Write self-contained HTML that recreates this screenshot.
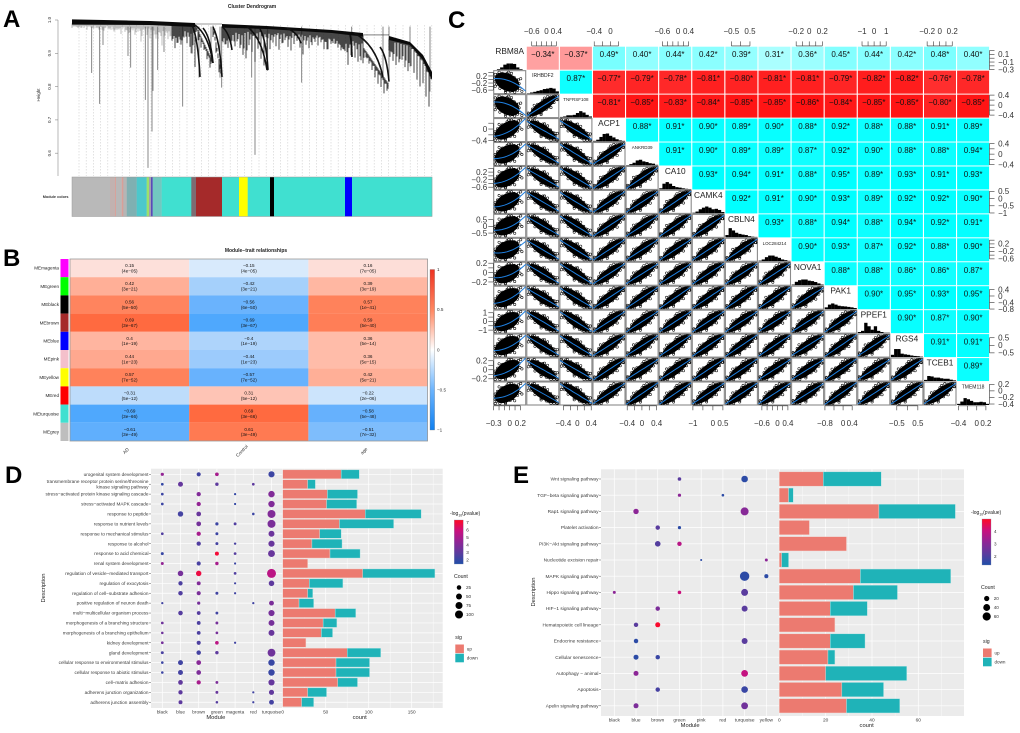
<!DOCTYPE html>
<html lang="en">
<head>
<meta charset="utf-8">
<title>WGCNA multi-panel figure</title>
<style>
html,body{margin:0;padding:0;background:#fff;}
svg{display:block;font-family:"Liberation Sans",sans-serif;}
.soft{filter:blur(.3px);}
.softer{filter:blur(.2px);}
</style>
</head>
<body>
<svg id="fig" xmlns="http://www.w3.org/2000/svg" width="1020" height="733" viewBox="0 0 1020 733">
<defs>
<linearGradient id="heatGrad" x1="0" y1="0" x2="0" y2="1">
<stop offset="0" stop-color="#ee3322"/><stop offset=".25" stop-color="#ff8660"/><stop offset=".5" stop-color="#ffffff"/><stop offset=".75" stop-color="#6cb4fd"/><stop offset="1" stop-color="#1080f0"/>
</linearGradient>
<linearGradient id="pGrad" x1="0" y1="0" x2="0" y2="1">
<stop offset="0" stop-color="#ff0a24"/><stop offset=".25" stop-color="#c9107e"/><stop offset=".5" stop-color="#8f2596"/><stop offset=".75" stop-color="#5c3b9e"/><stop offset="1" stop-color="#1f4fa8"/>
</linearGradient>
</defs>
<rect width="1020" height="733" fill="#fff"/>
<text x="3" y="27" font-size="24" font-weight="bold">A</text>
<text x="3" y="266" font-size="24" font-weight="bold">B</text>
<text x="448" y="28" font-size="24" font-weight="bold">C</text>
<text x="5" y="483" font-size="24" font-weight="bold">D</text>
<text x="513" y="483" font-size="24" font-weight="bold">E</text>

<g id="panelA" class="soft">
<text x="252" y="8" font-size="5" font-weight="bold" text-anchor="middle" fill="#222">Cluster Dendrogram</text>
<text x="0" y="0" transform="translate(40,95) rotate(-90)" font-size="4.5" text-anchor="middle" fill="#333">Height</text>
<text x="68.5" y="198" font-size="3.8" font-weight="bold" text-anchor="end" fill="#333">Module colors</text>
</g>
<g id="panelB" class="soft">
<text x="256" y="252" font-size="5" font-weight="bold" text-anchor="middle" fill="#222">Module−trait relationships</text>
</g>
<g id="panelC" class="softer"></g>
<g id="panelD" class="soft"></g>
<g id="panelE" class="soft"></g>
</svg>

<script>
/* ---------- Panel A data ---------- */
var dendroTicks = [1.0, 0.9, 0.8, 0.7, 0.6];
var bandRanks = [[0,78,123],[150,195,260,291],[317,338,351,360]];
var bandTops = [[1.002,.997,.991],[.988,.982,.970,.961],[.952,.934,.895,.844]];
var bandBottoms = [[.986,.985,.979],[.977,.973,.961,.950],[.940,.925,.88,.82]];
var longDripRanks = [19.7,27.7,31,56,58.7,73.3,76,80,81,85.7,92,110.7,119,127,139,148,149.7,179.7,183,195.7,229.7,279.7,311,317,338,358];
var longDripHeights = [.841,.748,.925,.892,.857,.76,.556,.665,.787,.85,.904,.74,.90,.827,.868,.827,.797,.827,.595,.847,.812,.889,.829,.815,.86,.785];
var twigDepths = [1,.5,1,1,1,1.5,.5,1,1,1.5,1.5,1,1,1.5,2,1.5,1,1,1.5,2.5,1,3,2,5,1,3,4,3,4,2,6,3,4,3,3,5,4,3,3,3,8,12,9,10,6,9,11,10,9,12,4,5,6,5,4,4,6,8,9,5,7,10,6,9,11,12,6,4,5,6,4,3,5,6,4,3,5,7,4,5,4,3,4,3,5,5,2,3,3,3,4,5,9,6,3,4,6,8,5,7,9,12,14,13,15,8,5,6,7,6,5,7,8,6,7,8,9,7,9,10];
var branchArcs = [[123,.985,141,.871],[120,.985,128,.829],[131,.976,141,.871],[141,.979,150,.829],[175,.98,195,.85],[188,.973,196,.85],[278,.955,280,.889],[282,.961,311,.829],[308,.919,317,.815],[150,.98,160,.91],[215,.975,229,.93]];
var flatLinks = [[123,150,.988],[291,317,.955]];
var moduleBarSegments = [[0,38],[38,43],[43,44],[44,49.7],[49.7,51.3],[51.3,54.7],[54.7,64.7],[64.7,74.7],[74.7,77],[77,79],[79,80.7],[80.7,89.7],[89.7,119.3],[119.3,124],[124,150],[150,167],[167,175.7],[175.7,198],[198,202],[202,273],[273,280],[280,360]];
var moduleBarColors = ['#b9b9b9','#c2b2b0','#d8a29b','#b8b8b8','#d89f98','#b5b5b5','#7fb0b2','#4cc8cc','#9ee06a','#a0a0b0','#5a4ab8','#72c8c0','#40e0d0','#7d6c72','#a52a2a','#40e0d0','#ffff00','#40e0d0','#000000','#40e0d0','#0000ff','#40e0d0'];

/* ---------- Panel B data ---------- */
var moduleNames = ['MEmagenta','MEgreen','MEblack','MEbrown','MEblue','MEpink','MEyellow','MEred','MEturquoise','MEgrey'];
var moduleSwatches = ['#ff00ff','#00ff00','#000000','#a52a2a','#0000ff','#f4c0cb','#ffff00','#ff0000','#40e0d0','#bebebe'];
var traitNames = ['AD','Control','age'];
var corrAD = [0.15,0.42,0.56,0.69,0.4,0.44,0.57,-0.31,-0.69,-0.61];
var corrControl = [-0.15,-0.42,-0.56,-0.69,-0.4,-0.44,-0.57,0.31,0.69,0.61];
var corrAge = [0.16,0.39,0.57,0.59,0.36,0.36,0.42,-0.22,-0.58,-0.51];
var pAD = ['4e−05','3e−21','5e−50','3e−67','1e−19','1e−23','7e−52','5e−12','3e−66','3e−49'];
var pControl = ['4e−05','3e−21','6e−50','3e−67','1e−19','1e−23','7e−52','5e−12','3e−66','3e−49'];
var pAge = ['7e−05','3e−19','1e−41','5e−40','5e−14','5e−15','5e−21','2e−06','5e−48','7e−32'];
var heatLegendTicks = [1,0.5,0,-0.5,-1];
var heatStopLevels = [0,.15,.4,.55,.69,1];
var heatPosColors = [[255,255,255],[253,224,218],[255,181,160],[255,134,96],[255,106,64],[238,51,34]];
var heatNegColors = [[255,255,255],[216,234,252],[174,212,251],[108,180,253],[79,168,253],[16,128,240]];

/* ---------- Panel C data ---------- */
var genes = ['RBM8A','IRHBDF2','TNFRSF108','ACP1','ANKRD39','CA10','CAMK4','CBLN4','LOC284214','NOVA1','PAK1','PPEF1','RGS4','TCEB1','TMEM118'];
var geneLabelSizes = [8.3,5,4.5,8.3,4.5,8.3,8.3,8.3,4.4,8.3,8.3,8.3,8.3,8.3,5];
var corrUpper = [
[-0.34,-0.37,0.49,0.40,0.44,0.42,0.39,0.31,0.36,0.45,0.44,0.42,0.48,0.40],
[0.87,-0.77,-0.79,-0.78,-0.81,-0.80,-0.81,-0.81,-0.79,-0.82,-0.82,-0.76,-0.78],
[-0.81,-0.85,-0.83,-0.84,-0.85,-0.85,-0.86,-0.84,-0.85,-0.85,-0.80,-0.85],
[0.88,0.91,0.90,0.89,0.90,0.88,0.92,0.88,0.88,0.91,0.89],
[0.91,0.90,0.89,0.89,0.87,0.92,0.90,0.88,0.88,0.94],
[0.93,0.94,0.91,0.88,0.95,0.89,0.93,0.91,0.93],
[0.92,0.91,0.90,0.93,0.89,0.92,0.92,0.90],
[0.93,0.88,0.94,0.88,0.94,0.92,0.91],
[0.90,0.93,0.87,0.92,0.88,0.90],
[0.88,0.88,0.86,0.86,0.87],
[0.90,0.95,0.93,0.95],
[0.90,0.87,0.90],
[0.91,0.91],
[0.89]];
var geneLo = [-.3,-.8,-.5,-.43,-.43,-.72,-1.03,-.82,-.73,-.27,-.81,-1.35,-.78,-.25,-.43];
var geneHi = [.3,.5,.42,.36,.44,.5,.57,.9,.5,.22,.6,1.3,.74,.26,.27];
var geneTicks = [[-.3,-.2,-.1,0,.1,.2],[-.6,-.4,-.2,0,.2,.4],[-.4,-.2,0,.2,.4],[-.4,-.2,0,.2],[-.4,-.2,0,.2,.4],[-.6,-.4,-.2,0,.2,.4],[-1,-.5,0,.5],[-.5,0,.5],[-.6,-.4,-.2,0,.2,.4],[-.2,-.1,0,.1,.2],[-.8,-.4,0,.4],[-1,-.5,0,.5,1],[-.5,0,.5],[-.2,-.1,0,.1,.2],[-.4,-.2,0,.2]];
var geneXLabels = [[-.3,0,.2],[-.6,0,.4],[-.4,0,.4],[-.4,0],[-.4,0,.4],[-.6,0,.4],[-1,0,.5],[-.5,.5],[-.6,0,.4],[-.2,0,.2],[-.8,0,.4],[-1,0,1],[-.5,.5],[-.2,0,.2],[-.4,0,.2]];
var geneYLabels = [[.1,-.1,-.3],[.2,-.2,-.6],[.4,0,-.4],[0,-.4],[.4,0,-.4],[.2,-.2,-.6],[.5,0,-.5,-1],[.5,0,-.5],[.2,-.2,-.6],[.2,0,-.2],[.4,0,-.4,-.8],[1,0,-1],[.5,0,-.5],[.2,0,-.2],[.2,0,-.2,-.4]];
var geneHist = [
[0,.03,.1,.22,.27,.27,.25,.1,.03,0],
[.02,.05,.08,.12,.15,.2,.22,.25,.22,.1],
[.03,.05,.1,.1,.12,.2,.28,.22,.12,.05],
[.03,.08,.2,.33,.35,.25,.18,.1,.05,.03],
[.02,.06,.12,.22,.25,.18,.15,.1,.08,.03],
[.05,.25,.32,.25,.15,.1,.08,.05,.03,.02],
[.03,.08,.18,.25,.3,.25,.18,.2,.15,.06],
[.1,.4,.3,.2,.15,.12,.1,.05,.03,.02],
[.03,.08,.18,.25,.25,.2,.15,.08,.05,.02],
[.03,.15,.22,.25,.25,.2,.18,.14,.08,.03],
[.08,.2,.25,.2,.15,.13,.12,.1,.08,.05],
[.05,.1,.45,.3,.15,.3,.1,.05,.02,.02],
[.1,.35,.35,.15,.12,.1,.07,.05,.04,.02],
[.05,.22,.2,.15,.15,.12,.1,.1,.06,.03],
[.05,.15,.3,.25,.18,.12,.12,.14,.12,.05]];
var scatterCloudX = [-1.6,-1.3,-1.2,-.9,-.8,-.6,-.5,-.3,-.2,0,.1,.3,.4,.6,.7,.9,1,1.2,1.3,1.5,1.6,-1.5,-1.1,-.7,-.4,0,.2,.5,.8,1.1,1.4,-1.8,1.85,-1,.95,.2,-.2,1.7,-1.7,.55];
var scatterCloudY = [.2,-.8,.9,-1.4,.3,1.3,-1,.8,-1.5,1.5,-.7,1.2,-1.4,.5,-1.2,1.1,-.3,.8,-.9,.3,-.5,-.4,-.2,-.6,1,-.4,.6,-.8,.4,-.6,.9,.7,-.9,1.6,-1.7,1.8,-1.9,1.2,-1.3,1.7];

/* ---------- Panel D data ---------- */
var dCategories = ['urogenital system development','transmembrane receptor protein serine/threonine|kinase signaling pathway','stress−activated protein kinase signaling cascade','stress−activated MAPK cascade','response to peptide','response to nutrient levels','response to mechanical stimulus','response to alcohol','response to acid chemical','renal system development','regulation of vesicle−mediated transport','regulation of exocytosis','regulation of cell−substrate adhesion','positive regulation of neuron death','multi−multicellular organism process','morphogenesis of a branching structure','morphogenesis of a branching epithelium','kidney development','gland development','cellular response to environmental stimulus','cellular response to abiotic stimulus','cell−matrix adhesion','adherens junction organization','adherens junction assembly'];
var dModules = ['black','blue','brown','green','magenta','red','turquoise'];
var dUp = [68,29,52,51,96,66,43,34,55,29,93,31,29,19,61,47,45,27,75,62,62,64,29,22];
var dDown = [21,9,35,35,65,63,25,35,35,0,84,39,6,17,24,16,13,0,39,39,39,23,22,14];
var dDots = [
[[0,4.5,10],[2,2.3,20],[3,5,15],[6,2.2,55]],
[[0,2,6],[1,3.2,32],[3,3,12],[5,3,6]],
[[0,2.2,6],[2,4,22],[4,2,3],[6,4,60]],
[[0,2.2,6],[2,4.5,22],[4,2,3],[6,4,60]],
[[1,2.4,40],[2,3.3,28],[5,2.2,5],[6,4,100]],
[[2,3.6,28],[3,2.2,10],[4,2.7,7],[6,3.8,100]],
[[0,2.7,6],[2,5,22],[3,2.2,8],[6,3.4,50]],
[[2,2.7,22],[3,2.4,8],[4,2.5,4],[6,3.3,55]],
[[0,2.1,8],[3,7,18],[4,2.8,6],[6,3.3,70]],
[[0,4.5,8],[2,2.5,20],[3,5,12],[4,2.2,3]],
[[1,3.7,42],[2,6.8,40],[4,2.7,6],[6,5.5,130]],
[[1,2.6,22],[2,4,18],[4,2.3,3],[6,3,42]],
[[1,2.7,25],[2,3.8,20],[3,2.3,8],[4,2.3,3]],
[[0,2.3,3],[2,3.7,10],[5,2.3,3],[6,3.8,30]],
[[1,2.8,26],[2,2.8,16],[3,2.3,7],[6,3.7,55]],
[[0,3.5,6],[2,2.6,16],[3,3.7,7],[6,3.7,50]],
[[0,3.5,5],[2,2.6,16],[3,3.7,6],[6,3.3,50]],
[[0,3.7,6],[2,2.6,20],[3,5.5,14],[4,2.3,3]],
[[0,2.5,8],[2,2.4,25],[3,3,12],[6,3.5,95]],
[[0,2.2,5],[1,2.3,32],[2,4.2,28],[6,2.1,60]],
[[0,2.2,5],[1,2.4,32],[2,3.9,28],[6,2.1,60]],
[[1,3.1,28],[2,5,22],[3,3.9,7],[6,3.2,55]],
[[1,3,22],[3,3.3,7],[5,2.3,3],[6,3.1,35]],
[[1,3,18],[3,2.8,5],[5,2.3,3],[6,2.4,30]]];
var dCountTicks = [0,50,100,150];
var dCountMinor = [25,75,125,175];
var dPTicks = [7,6,5,4,3,2];
var dSizeLegend = [25,50,75,100];

/* ---------- Panel E data ---------- */
var eCategories = ['Wnt signaling pathway','TGF−beta signaling pathway','Rap1 signaling pathway','Platelet activation','PI3K−Akt signaling pathway','Nucleotide excision repair','MAPK signaling pathway','Hippo signaling pathway','HIF−1 signaling pathway','Hematopoietic cell lineage','Endocrine resistance','Cellular senescence','Autophagy − animal','Apoptosis','Apelin signaling pathway'];
var eModules = ['black','blue','brown','green','pink','red','turquoise','yellow'];
var eUp = [19,4,43,13,29,1,35,32,22,24,22,21,20,27,29];
var eDown = [25,2,33,0,0,3,39,19,16,0,15,3,35,18,23];
var eDots = [
[[3,2.2,7],[6,1.5,36]],
[[3,3.1,5],[5,1.5,2.4]],
[[1,3.1,22],[6,3,57]],
[[2,2.2,13],[3,1.5,5]],
[[2,2.1,24],[3,3.8,13]],
[[4,1.5,1],[7,3.1,4]],
[[6,1.5,83],[7,1.5,10]],
[[0,3.1,4],[3,4.1,7],[6,2.2,41]],
[[2,2.8,13],[6,2.2,28]],
[[1,2.2,13],[2,4.9,18]],
[[1,1.5,13],[6,2.2,28]],
[[1,1.5,18],[2,1.7,13]],
[[1,3.1,18],[6,4,39]],
[[2,1.9,13],[6,1.7,36]],
[[1,2.8,18],[6,2.6,39]]];
var eCountTicks = [0,20,40,60];
var eCountMinor = [10,30,50,70];
var ePTicks = [4,3,2];
var eSizeLegend = [20,40,60];

/* ---------- helpers ---------- */
var NS = 'http://www.w3.org/2000/svg';
function mk(tag, attrs, parent){
  var e = document.createElementNS(NS, tag);
  for (var k in attrs) e.setAttribute(k, attrs[k]);
  parent.appendChild(e);
  return e;
}
function txt(str, attrs, parent){
  var e = mk('text', attrs, parent);
  e.textContent = str;
  return e;
}
function minus(v){ return String(v).replace('-', '−'); }
function lerp(a, b, t){ return a + (b - a) * t; }

/* ---------- Panel A ---------- */
(function(){
  var g = document.getElementById('panelA');
  function ax(r){ return 72 + r; }
  function ay(h){ return 20 + (1 - h) * 333; }
  for (var gx = 79; gx < 432; gx += 7.2) {
    var guide = mk('line', {x1:gx, x2:gx, y1:ay(.985), y2:176, stroke:'#cfcfcf', 'stroke-width':.6, 'stroke-dasharray':'1.5 1.5'}, g);
    
    
  }
  var yAxis = mk('line', {x1:58, x2:58, y1:ay(1), y2:176, stroke:'#888', 'stroke-width':.6}, g);
  
  
  dendroTicks.forEach(function(v){
    var tk = mk('line', {x1:55, x2:58, y1:ay(v), y2:ay(v), stroke:'#888', 'stroke-width':.6}, g);
    
    
    var lb = txt(v.toFixed(1), {transform:'translate(51,'+ay(v)+') rotate(-90)', 'font-size':4.5, 'text-anchor':'middle', fill:'#333'}, g);
    
    
  });
  longDripRanks.forEach(function(r, i){
    var d = mk('line', {x1:ax(r), x2:ax(r), y1:ay(.98), y2:ay(longDripHeights[i]), stroke:'#6a6a6a', 'stroke-width':.8}, g);
    
    
  });
  function bandY(seg, r, arr){
    var rs = bandRanks[seg];
    for (var i = 0; i < rs.length - 1; i++) {
      if (r >= rs[i] && r <= rs[i+1]) return lerp(arr[seg][i], arr[seg][i+1], (r - rs[i]) / (rs[i+1] - rs[i]));
    }
    return null;
  }
  function gapBase(r){
    if (r < 141) return lerp(.985, .871, (r - 123) / 18);
    if (r < 150) return lerp(.979, .829, (r - 141) / 9);
    return lerp(.955, .829, (r - 282) / 29);
  }
  var layerScale = [1, .55, .35];
  var layerStep = [0, 7, 13];
  twigDepths.forEach(function(dp, i){
    for (var L = 0; L < 3; L++) {
      var r = i * 3 + L;
      var base = null;
      for (var s = 0; s < 3; s++) { var b = bandY(s, r, bandBottoms); if (b !== null) base = b; }
      var inGap = base === null;
      if (inGap) base = gapBase(r);
      var depth = twigDepths[(i + layerStep[L]) % twigDepths.length] * layerScale[L] * (inGap ? .3 : 1);
      var t = mk('line', {x1:ax(r), x2:ax(r), y1:ay(base + .004), y2:ay(base - depth * .01), stroke: r < 100 ? '#666' : '#1a1a1a', 'stroke-width': r < 100 ? .6 : 1, opacity: r < 100 ? .7 : .8}, g);
      
      
    }
  });
  bandRanks.forEach(function(rs, s){
    var d = '';
    rs.forEach(function(r, i){ d += (i ? 'L' : 'M') + ax(r) + ' ' + ay(bandTops[s][i]); });
    for (var i = rs.length - 1; i >= 0; i--) d += 'L' + ax(rs[i]) + ' ' + ay(bandBottoms[s][i]);
    var p = mk('path', {d:d + 'Z', fill:'#0a0a0a'}, g);
    
    
  });
  branchArcs.forEach(function(a){
    var p = mk('path', {d:'M'+ax(a[0])+' '+ay(a[1])+'Q'+ax(lerp(a[0],a[2],.75))+' '+ay(lerp(a[1],a[3],.25))+' '+ax(a[2])+' '+ay(a[3]), fill:'none', stroke:'#111', 'stroke-width':1.6}, g);
    
    
  });
  flatLinks.forEach(function(l){
    var p = mk('line', {x1:ax(l[0]), x2:ax(l[1]), y1:ay(l[2]), y2:ay(l[2]), stroke:'#333', 'stroke-width':.6}, g);
    
    
  });
  moduleBarSegments.forEach(function(seg, i){
    var r = mk('rect', {x:ax(seg[0]), y:177, width:seg[1] - seg[0] + .2, height:39.5, fill:moduleBarColors[i]}, g);
    
    
  });
  var edge = mk('rect', {x:72, y:177, width:360, height:39.5, fill:'none', stroke:'#999', 'stroke-width':.5}, g);
  
  
})();

/* ---------- Panel B ---------- */
(function(){
  var g = document.getElementById('panelB');
  var x0 = 70, y0 = 259, cw = 119.2, rh = 18.2;
  var cols = [corrAD, corrControl, corrAge];
  var ps = [pAD, pControl, pAge];
  function heat(v){
    var a = Math.abs(v), pal = v >= 0 ? heatPosColors : heatNegColors;
    for (var i = 0; i < heatStopLevels.length - 1; i++) {
      if (a <= heatStopLevels[i+1]) {
        var t = (a - heatStopLevels[i]) / (heatStopLevels[i+1] - heatStopLevels[i]);
        return 'rgb(' + [0,1,2].map(function(c){ return Math.round(lerp(pal[i][c], pal[i+1][c], t)); }).join(',') + ')';
      }
    }
    return 'rgb(' + pal[pal.length-1].join(',') + ')';
  }
  moduleNames.forEach(function(name, r){
    var sw = mk('rect', {x:60.5, y:y0 + r*rh, width:8, height:rh, fill:moduleSwatches[r]}, g);
    
    
    var lb = txt(name, {x:59, y:y0 + r*rh + rh/2 + 1.6, 'font-size':4.6, 'text-anchor':'end', fill:'#222'}, g);
    
    
    cols.forEach(function(col, c){
      var cell = mk('rect', {x:x0 + c*cw, y:y0 + r*rh, width:cw, height:rh, fill:heat(col[r])}, g);
      
      
      var tv = txt(minus(col[r]), {x:x0 + (c+.5)*cw, y:y0 + r*rh + 8, 'font-size':4.6, 'text-anchor':'middle', fill:'#111'}, g);
      
      
      var tp = txt('(' + ps[c][r] + ')', {x:x0 + (c+.5)*cw, y:y0 + r*rh + 13.4, 'font-size':4.6, 'text-anchor':'middle', fill:'#111'}, g);
      
      
    });
  });
  var fr = mk('rect', {x:x0, y:y0, width:cw*3, height:rh*10, fill:'none', stroke:'#999', 'stroke-width':.8}, g);
  
  
  var anchors = [127, 243, 365];
  traitNames.forEach(function(t, i){
    var lb = txt(t, {transform:'translate('+anchors[i]+',452) rotate(-45)', 'font-size':4.6, 'text-anchor':'middle', fill:'#333'}, g);
    
    
  });
  var cb = mk('rect', {x:430, y:269.5, width:4.6, height:160.5, fill:'url(#heatGrad)', stroke:'#777', 'stroke-width':.3}, g);
  
  
  heatLegendTicks.forEach(function(v){
    var y = 269.5 + (1 - v) / 2 * 160.5;
    var lb = txt(minus(v), {x:437, y:y + 1.6, 'font-size':4.6, fill:'#333'}, g);
    
    
  });
})();

/* ---------- Panel C ---------- */
(function(){
  var g = document.getElementById('panelC');
  var X0 = 493.7, Y0 = 46.7, PX = 33.1, PY = 23.95, CW = 32, CH = 23;
  var n = genes.length;
  function cx(i){ return X0 + i * PX; }
  function cy(i){ return Y0 + i * PY; }
  function xv(gene, v){ return cx(gene) + (v - geneLo[gene]) / (geneHi[gene] - geneLo[gene]) * CW; }
  function yv(gene, v){ return cy(gene) + CH - (v - geneLo[gene]) / (geneHi[gene] - geneLo[gene]) * CH; }
  function corrAt(a, b){ return corrUpper[a][b - a - 1]; }
  function cellFill(r){
    var a = Math.min(1, Math.abs(r) * 1.08), k = Math.round(255 * (1 - a));
    return r > 0 ? 'rgb(' + k + ',255,255)' : 'rgb(255,' + k + ',' + k + ')';
  }
  for (var i = 0; i < n; i++) {
    /* upper triangle */
    for (var j = i + 1; j < n; j++) {
      var r = corrAt(i, j);
      var cell = mk('rect', {x:cx(j), y:cy(i), width:CW, height:CH, fill:cellFill(r)}, g);
      
      
      var tx = txt(minus(r.toFixed(2)) + '*', {x:cx(j) + CW/2, y:cy(i) + 10.5, 'font-size':8, 'text-anchor':'middle', fill:'#111'}, g);
      
      
    }
    /* diagonal */
    var name = txt(genes[i], {x:cx(i) + CW/2, y:cy(i) + (geneLabelSizes[i] > 6 ? 7.5 : 6.5), 'font-size':geneLabelSizes[i], 'text-anchor':'middle', fill:'#222'}, g);
    
    
    geneHist[i].forEach(function(h, b){
      var bar = mk('rect', {x:cx(i) + b * CW / 10, y:cy(i) + CH - h * CH, width:CW / 10 + .1, height:h * CH, fill:'#000'}, g);
      
      
    });
    /* lower triangle */
    for (var c = 0; c < i; c++) {
      var rr = corrAt(c, i), s = Math.max(Math.sqrt(1 - rr * rr), .62);
      var sg = mk('g', {}, g);
      
      
      var f = mk('rect', {x:cx(c), y:cy(i), width:CW, height:CH, fill:'#fff', stroke:'#8a8a8a', 'stroke-width':1.1}, sg);
      
      
      var mx = cx(c) + CW * (c === 0 ? .42 : .5), my = cy(i) + CH * .5;
      var sx = CW * (c === 0 ? .25 : .27), sy = CH * .27;
      var d = '';
      for (var a = 0; a < 24; a++) {
        var th = a / 24 * 6.2832, zx = 1.55 * Math.cos(th), zy = 1.55 * Math.sin(th);
        d += (a ? 'L' : 'M') + (mx + zx * sx).toFixed(1) + ' ' + Math.max(cy(i) + .8, Math.min(cy(i) + CH - .8, my - (rr * zx + s * zy) * sy)).toFixed(1);
      }
      var blob = mk('path', {d:d + 'Z', fill:'#000'}, sg);
      
      
      var pts = '';
      scatterCloudX.forEach(function(zx, k){
        var zy = scatterCloudY[k];
        var ppx = Math.max(cx(c) + 1.5, Math.min(cx(c) + CW - 1.5, mx + zx * sx));
        var ppy = Math.max(cy(i) + 1.5, Math.min(cy(i) + CH - 1.5, my - (rr * zx + s * zy) * sy));
        pts += 'M' + (ppx - 1.2).toFixed(1) + ' ' + ppy.toFixed(1) + 'a1.2 1.2 0 1 0 2.4 0a1.2 1.2 0 1 0 -2.4 0';
      });
      var cloud = mk('path', {d:pts, fill:'none', stroke:'#000', 'stroke-width':.55}, sg);
      
      
      var lp = '';
      for (var q = 0; q <= 12; q++) {
        var z = -1.85 + q / 12 * 3.7, yz;
        if (c === 0) yz = rr > 0 ? 1.6 * rr * z + .18 * (z * z - 1) : 1.6 * rr * z - .18 * (z * z - 1);
        else yz = rr * z;
        lp += (q ? 'L' : 'M') + (cx(c) + CW * .5 + z * CW * .27).toFixed(1) + ' ' + (my - yz * sy).toFixed(1);
      }
      var fit = mk('path', {d:lp, fill:'none', stroke:'#1e7fe0', 'stroke-width':1}, sg);
      
      
    }
    /* axes */
    var odd = i % 2 === 1;
    var hy = odd ? cy(0) - .8 : cy(n - 1) + CH + .8;
    var dir = odd ? -1 : 1;
    var hx0 = xv(i, geneTicks[i][0]), hx1 = xv(i, geneTicks[i][geneTicks[i].length - 1]);
    var hline = mk('line', {x1:hx0, x2:hx1, y1:hy, y2:hy, stroke:'#333', 'stroke-width':.6}, g);
    
    
    var vx = odd ? cx(0) - .4 : cx(n - 1) + CW + .4;
    var vdir = odd ? -1 : 1;
    var vline = mk('line', {x1:vx, x2:vx, y1:yv(i, geneTicks[i][0]), y2:yv(i, geneTicks[i][geneTicks[i].length - 1]), stroke:'#333', 'stroke-width':.6}, g);
    
    
    geneTicks[i].forEach(function(v){
      var xt = mk('line', {x1:xv(i, v), x2:xv(i, v), y1:hy, y2:hy + dir * 4.5, stroke:'#333', 'stroke-width':.6}, g);
      
      
      var yt = mk('line', {x1:vx, x2:vx + vdir * 5, y1:yv(i, v), y2:yv(i, v), stroke:'#333', 'stroke-width':.6}, g);
      
      
    });
    geneXLabels[i].forEach(function(v){
      var lb = txt(minus(v), {x:xv(i, v), y:odd ? 34 : 426, 'font-size':8, 'text-anchor':'middle', fill:'#333'}, g);
      
      
    });
    geneYLabels[i].forEach(function(v){
      var lb = txt(minus(v), {x:odd ? cx(0) - 6.5 : cx(n - 1) + CW + 9, y:yv(i, v) + 2.8, 'font-size':8, 'text-anchor':odd ? 'end' : 'start', fill:'#333'}, g);
      
      
    });
  }
})();

/* ---------- Panels D / E ---------- */
function enrichColor(t){
  var stops = [[31,79,168],[92,59,158],[143,37,150],[201,16,126],[255,10,36]];
  t = Math.max(0, Math.min(.9999, t));
  var p = t * 4, i = Math.floor(p), f = p - i;
  return 'rgb(' + [0,1,2].map(function(c){ return Math.round(lerp(stops[i][c], stops[i+1][c], f)); }).join(',') + ')';
}
function drawEnrich(g, o){
  var cats = o.cats;
  var py0 = o.top, py1 = o.bottom;
  function rowY(i){ return o.firstRow + i * o.rowStep; }
  function modX(i){ return o.firstMod + i * o.modStep; }
  function cntX(v){ return o.barX0 + v * o.barScale; }
  function rad(c){ return o.rBase + o.rK * Math.sqrt(c); }
  function pCol(v){ return enrichColor((v - o.pMin) / (o.pMax - o.pMin)); }
  var bg1 = mk('rect', {x:o.dotX0, y:py0, width:o.dotX1 - o.dotX0, height:py1 - py0, fill:'#ebebeb'}, g);
  
  
  var bg2 = mk('rect', {x:o.barX0, y:py0, width:o.barX1 - o.barX0, height:py1 - py0, fill:'#ebebeb'}, g);
  
  
  cats.forEach(function(cat, i){
    var y = rowY(i);
    var gl = mk('line', {x1:o.dotX0, x2:o.barX1, y1:y, y2:y, stroke:'#fff', 'stroke-width':.7}, g);
    
    
    var tk = mk('line', {x1:o.dotX0 - 2, x2:o.dotX0, y1:y, y2:y, stroke:'#555', 'stroke-width':.5}, g);
    
    
    var parts = cat.split('|');
    parts.forEach(function(line, k){
      var lb = txt(line, {x:o.dotX0 - 2.5, y:y + 1.6 + (k - (parts.length - 1) / 2) * 5.6, 'font-size':o.labelSize, 'text-anchor':'end', fill:'#3a3a3a'}, g);
      
      
    });
  });
  o.mods.forEach(function(m, i){
    var gl = mk('line', {x1:modX(i), x2:modX(i), y1:py0, y2:py1, stroke:'#fff', 'stroke-width':.7}, g);
    
    
    var lb = txt(m, {x:modX(i), y:py1 + 5.5, 'font-size':o.labelSize, 'text-anchor':'middle', fill:'#3a3a3a'}, g);
    
    
  });
  o.minor.forEach(function(v){
    var gl = mk('line', {x1:cntX(v), x2:cntX(v), y1:py0, y2:py1, stroke:'#fff', 'stroke-width':.35}, g);
    
    
  });
  o.ticks.forEach(function(v){
    var gl = mk('line', {x1:cntX(v), x2:cntX(v), y1:py0, y2:py1, stroke:'#fff', 'stroke-width':.7}, g);
    
    
    var lb = txt(String(v), {x:cntX(v), y:py1 + 5.5, 'font-size':o.labelSize, 'text-anchor':'middle', fill:'#3a3a3a'}, g);
    
    
  });
  o.dots.forEach(function(list, i){
    list.forEach(function(d){
      var c = mk('circle', {cx:modX(d[0]), cy:rowY(i), r:rad(d[2]), fill:pCol(d[1])}, g);
      
      
    });
  });
  o.up.forEach(function(u, i){
    var h = o.barH, y = rowY(i) - h / 2;
    var a = mk('rect', {x:cntX(0), y:y, width:u * o.barScale, height:h, fill:'#ec7a70', stroke:'#f0d8d2', 'stroke-width':.4}, g);
    
    
    if (o.down[i] > 0) {
      var b = mk('rect', {x:cntX(u), y:y, width:o.down[i] * o.barScale, height:h, fill:'#1fb3b8', stroke:'#bfe6e6', 'stroke-width':.4}, g);
      
      
    }
  });
  var t1 = txt('Description', {transform:'translate('+o.descX+','+o.descY+') rotate(-90)', 'font-size':o.titleSize, 'text-anchor':'middle', fill:'#222'}, g);
  
  
  var t2 = txt('Module', {x:(o.dotX0 + o.dotX1) / 2 + o.modShift, y:py1 + o.titleDy, 'font-size':o.titleSize, 'text-anchor':'middle', fill:'#222'}, g);
  
  
  var t3 = txt('count', {x:(o.barX0 + o.barX1) / 2 + o.cntShift, y:py1 + o.titleDy, 'font-size':o.titleSize, 'text-anchor':'middle', fill:'#222'}, g);
  
  
  /* legends */
  var L = o.legend;
  var lt = txt('-log', {x:L.x, y:L.pTitleY, 'font-size':L.fs + .4, fill:'#222'}, g);
  
  
  var ts = mk('tspan', {dy:1.5, 'font-size':L.fs - 1.2}, lt);
  ts.textContent = '10';
  var ts2 = mk('tspan', {dy:-1.5}, lt);
  ts2.textContent = '(pvalue)';
  var cb = mk('rect', {x:L.barX, y:L.barY, width:9, height:L.barH, fill:'url(#pGrad)', stroke:'#88a', 'stroke-width':.3}, g);
  
  
  o.pTicks.forEach(function(v){
    var y = L.barY + L.barH * (1 - (v - o.pMin) / (o.pMax - o.pMin));
    var lb = txt(String(v), {x:L.barX + 12, y:y + 1.5, 'font-size':L.fs, fill:'#333'}, g);
    
    
  });
  var ct = txt('Count', {x:L.countX, y:L.countY, 'font-size':L.fs + .6, fill:'#222'}, g);
  
  
  o.sizes.forEach(function(v, i){
    var y = L.countY + 9.5 + i * 9;
    var c = mk('circle', {cx:L.dotX, cy:y, r:rad(v), fill:'#000'}, g);
    
    
    var lb = txt(String(v), {x:L.dotX + 7, y:y + 1.5, 'font-size':L.fs, fill:'#333'}, g);
    
    
  });
  var st = txt('sig', {x:L.sigX, y:L.sigY, 'font-size':L.fs + .6, fill:'#222'}, g);
  
  
  ['up','down'].forEach(function(k, i){
    var y = L.sigY + 5.5 + i * 9.2;
    var s = mk('rect', {x:L.sigX, y:y, width:8.6, height:8.6, fill:i ? '#1fb3b8' : '#ec7a70'}, g);
    
    
    var lb = txt(k, {x:L.sigX + 11.5, y:y + 6, 'font-size':L.fs, fill:'#333'}, g);
    
    
  });
}
drawEnrich(document.getElementById('panelD'), {
  cats:dCategories, mods:dModules, up:dUp, down:dDown, dots:dDots, ticks:dCountTicks, minor:dCountMinor,
  pTicks:dPTicks, sizes:dSizeLegend, top:468.7, bottom:708, firstRow:474.3, rowStep:9.91,
  firstMod:162.3, modStep:18.2, dotX0:151, dotX1:282.7, barX0:282.7, barX1:442.7, barScale:.86, barH:8.9,
  rBase:.5, rK:.35, pMin:1.5, pMax:7.3, labelSize:4.7, titleSize:5.8,
  descX:45, descY:588, modShift:-1, cntShift:-3, titleDy:11,
  legend:{x:450, pTitleY:515, fs:4.6, barX:454.3, barY:520, barH:44, countX:454, countY:578, dotX:459, sigX:455.3, sigY:639}
});
drawEnrich(document.getElementById('panelE'), {
  cats:eCategories, mods:eModules, up:eUp, down:eDown, dots:eDots, ticks:eCountTicks, minor:eCountMinor,
  pTicks:ePTicks, sizes:eSizeLegend, top:469.3, bottom:716, firstRow:479, rowStep:16.2,
  firstMod:614.3, modStep:21.72, dotX0:601, dotX1:779.3, barX0:779.3, barX1:964, barScale:2.317, barH:14.3,
  rBase:.6, rK:.45, pMin:1.3, pMax:5, labelSize:4.8, titleSize:5.8,
  descX:535, descY:592, modShift:0, cntShift:-5, titleDy:11,
  legend:{x:971, pTitleY:514, fs:4.6, barX:982, barY:519, barH:46, countX:981, countY:589, dotX:986.7, sigX:983, sigY:643}
});
</script>
</body>
</html>
